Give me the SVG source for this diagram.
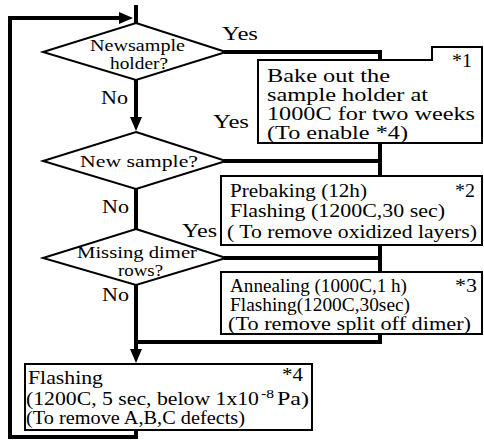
<svg xmlns="http://www.w3.org/2000/svg" width="484" height="440" viewBox="0 0 484 440">
<style>
.bg{fill:#fff}
.shape{fill:#fff;stroke:#000;stroke-width:2}
.conn{fill:none;stroke:#000;stroke-width:4;stroke-linecap:square}
.t{font-size:18px}
.d{font-size:17px}
.l{font-size:19px}
</style>
<defs>
<marker id="ah" viewBox="0 0 14 12" markerWidth="14" markerHeight="12" refX="6" refY="6" orient="auto" markerUnits="userSpaceOnUse">
<path d="M0,0 L14,6 L0,12 Z" fill="#000"/>
</marker>
</defs>
<rect class="bg" x="0" y="0" width="484" height="440"/>
<g id="connectors">
<path class="conn" d="M136,430 V437 H10 V18 H125" marker-end="url(#ah)"/>
<path class="conn" d="M136,7 V23"/>
<path class="conn" d="M136,80 V123" marker-end="url(#ah)"/>
<path class="conn" d="M136,189 V229"/>
<path class="conn" d="M136,285 V355" marker-end="url(#ah)"/>
<path class="conn" d="M226,52 H380 V60"/>
<path class="conn" d="M380,143 V161"/>
<path class="conn" d="M226,161 H380 V176"/>
<path class="conn" d="M380,245 V258"/>
<path class="conn" d="M226,258 H380 V272"/>
<path class="conn" d="M380,334 V342 H136"/>
<g font-family="Liberation Serif, DejaVu Serif, serif" fill="#000">
<text class="l" x="222" y="40" textLength="36" lengthAdjust="spacingAndGlyphs">Yes</text>
<text class="l" x="101" y="104" textLength="27" lengthAdjust="spacingAndGlyphs">No</text>
<text class="l" x="213" y="128" textLength="36" lengthAdjust="spacingAndGlyphs">Yes</text>
<text class="l" x="102" y="213" textLength="27" lengthAdjust="spacingAndGlyphs">No</text>
<text class="l" x="182" y="237" textLength="35" lengthAdjust="spacingAndGlyphs">Yes</text>
<text class="l" x="102" y="301" textLength="27" lengthAdjust="spacingAndGlyphs">No</text>
</g>
</g>
<g font-family="Liberation Serif, DejaVu Serif, serif" fill="#000">
<g id="d1">
<polygon class="shape" points="136,23 226,52 136,80 43,52"/>
<text class="d" x="90" y="51" textLength="95" lengthAdjust="spacingAndGlyphs">Newsample</text>
<text class="d" x="110" y="69" textLength="58" lengthAdjust="spacingAndGlyphs">holder?</text>
</g>
<g id="d2">
<polygon class="shape" points="136,132 226,161 136,189 43,161"/>
<text class="d" x="80" y="167" textLength="118" lengthAdjust="spacingAndGlyphs">New sample?</text>
</g>
<g id="d3">
<polygon class="shape" points="136,229 226,258 136,285 43,258"/>
<text class="d" x="77" y="258" textLength="120" lengthAdjust="spacingAndGlyphs">Missing dimer</text>
<text class="d" x="118" y="276" textLength="45" lengthAdjust="spacingAndGlyphs">rows?</text>
</g>
<g id="box1">
<path class="shape" d="M258,60 H432 V47 H482 V143 H258 Z"/>
<text class="t" x="452" y="67" textLength="20" lengthAdjust="spacingAndGlyphs">*1</text>
<text class="t" x="267" y="82" textLength="123" lengthAdjust="spacingAndGlyphs">Bake out the</text>
<text class="t" x="267" y="101" textLength="161" lengthAdjust="spacingAndGlyphs">sample holder at</text>
<text class="t" x="267" y="120" textLength="208" lengthAdjust="spacingAndGlyphs">1000C for two weeks</text>
<text class="t" x="267" y="139" textLength="141" lengthAdjust="spacingAndGlyphs">(To enable *4)</text>
</g>
<g id="box2">
<rect class="shape" x="221" y="176" width="261" height="69"/>
<text class="t" x="230" y="197" textLength="137" lengthAdjust="spacingAndGlyphs">Prebaking (12h)</text>
<text class="t" x="455" y="197" textLength="20" lengthAdjust="spacingAndGlyphs">*2</text>
<text class="t" x="230" y="217" textLength="215" lengthAdjust="spacingAndGlyphs">Flashing (1200C,30 sec)</text>
<text class="t" x="227" y="238" textLength="250" lengthAdjust="spacingAndGlyphs">( To remove oxidized layers)</text>
</g>
<g id="box3">
<rect class="shape" x="221" y="272" width="261" height="62"/>
<text class="t" x="230" y="292" textLength="177" lengthAdjust="spacingAndGlyphs">Annealing (1000C,1 h)</text>
<text class="t" x="455" y="292" textLength="22" lengthAdjust="spacingAndGlyphs">*3</text>
<text class="t" x="230" y="311" textLength="180" lengthAdjust="spacingAndGlyphs">Flashing(1200C,30sec)</text>
<text class="t" x="228" y="330" textLength="243" lengthAdjust="spacingAndGlyphs">(To remove split off dimer)</text>
</g>
<g id="box4">
<rect class="shape" x="25" y="364" width="287" height="66"/>
<text class="t" x="28" y="384" textLength="75" lengthAdjust="spacingAndGlyphs">Flashing</text>
<text class="t" x="282" y="381" textLength="21" lengthAdjust="spacingAndGlyphs">*4</text>
<text class="t" x="26" y="405" textLength="233" lengthAdjust="spacingAndGlyphs">(1200C, 5 sec, below 1x10</text>
<text x="261" y="398" font-size="12" textLength="13" lengthAdjust="spacingAndGlyphs">-8</text>
<text class="t" x="277" y="405" textLength="32" lengthAdjust="spacingAndGlyphs">Pa)</text>
<text class="t" x="26" y="424" textLength="219" lengthAdjust="spacingAndGlyphs">(To remove A,B,C defects)</text>
</g>
</g>
</svg>
